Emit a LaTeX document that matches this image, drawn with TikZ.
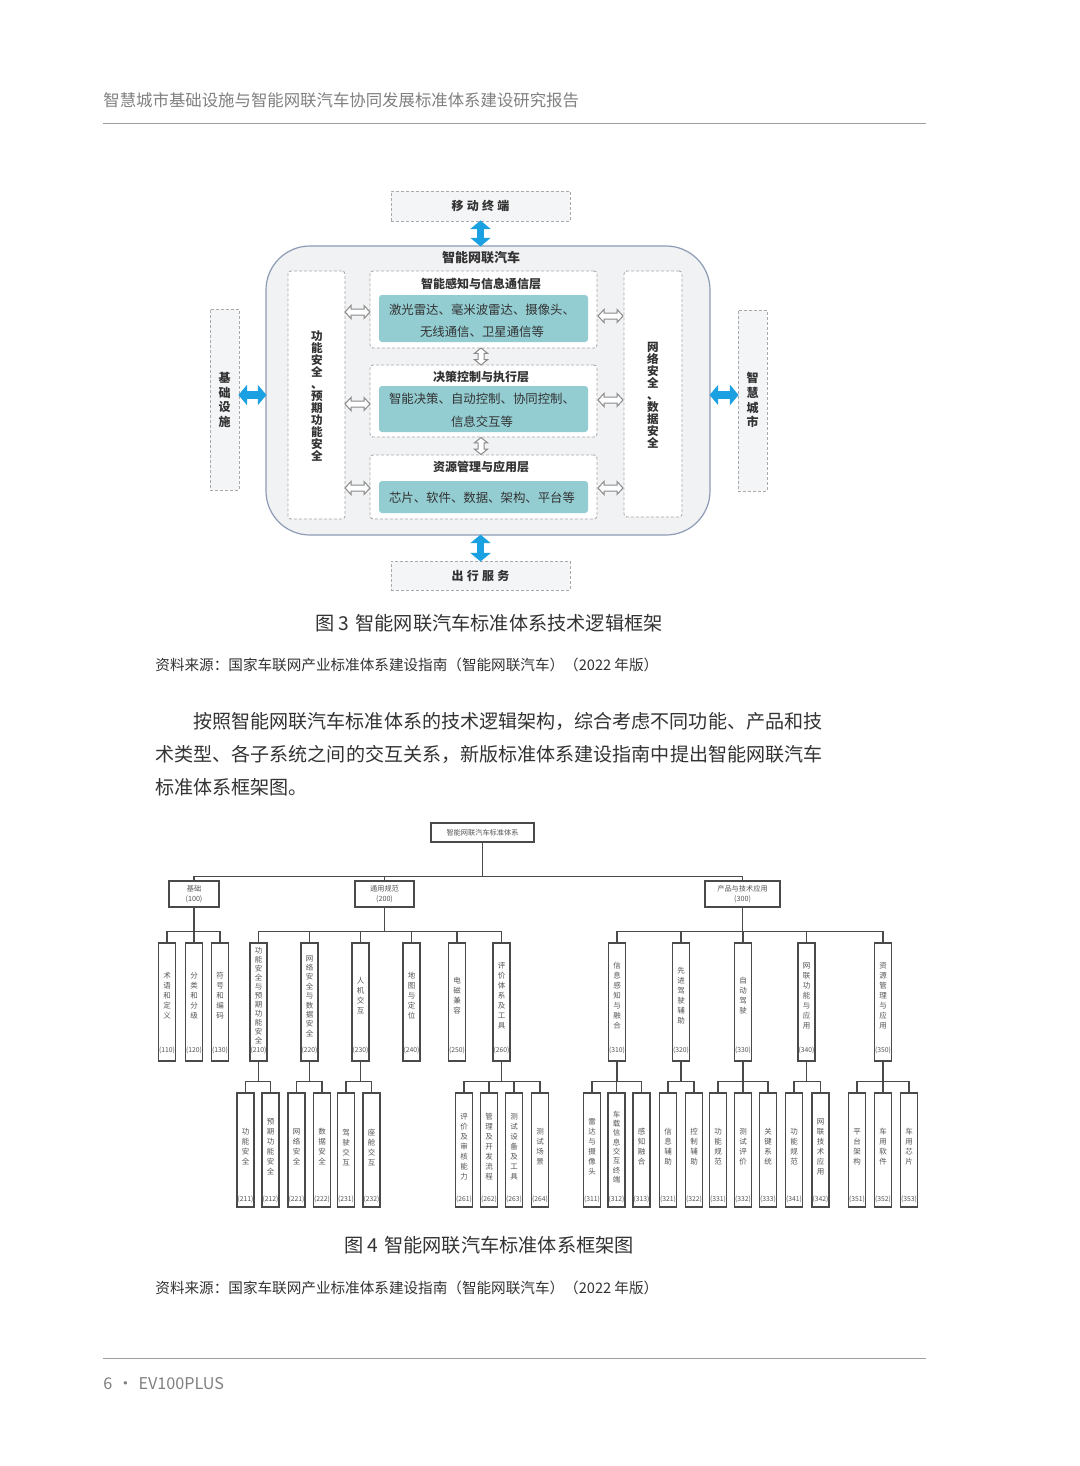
\documentclass[tikz,border=0pt]{standalone}
\usepackage{fontspec}
\setmainfont{Noto Sans CJK SC}
\setsansfont{Noto Sans CJK SC}
\usetikzlibrary{fit,arrows.meta}
\definecolor{hdr}{HTML}{808080}
\definecolor{body}{HTML}{333333}
\definecolor{bigfill}{HTML}{F1F2F4}
\definecolor{bigdraw}{HTML}{8E9BB5}
\definecolor{outfill}{HTML}{F4F5F6}
\definecolor{dashc}{HTML}{A9A9A9}
\definecolor{tealb}{HTML}{93CDD2}
\definecolor{bluea}{HTML}{1BA1E2}
\definecolor{lnc}{HTML}{4A4A4A}
\definecolor{txc}{HTML}{555555}
\definecolor{harc}{HTML}{8A8A8A}
\newcommand\fsz[2]{\fontsize{#1}{#2}\selectfont}
\newcommand\gapx{\hspace{1.6pt}}
% hollow double arrow, horizontal, around coordinate #1
\newcommand\hollowH[1]{%
  \draw[harrline] ([shift={(-12.5,0)}]#1) -- ([shift={(-6.5,-6.5)}]#1) -- ([shift={(-6.5,-3)}]#1)
   -- ([shift={(6.5,-3)}]#1) -- ([shift={(6.5,-6.5)}]#1) -- ([shift={(12.5,0)}]#1)
   -- ([shift={(6.5,6.5)}]#1) -- ([shift={(6.5,3)}]#1) -- ([shift={(-6.5,3)}]#1)
   -- ([shift={(-6.5,6.5)}]#1) -- cycle;}
% hollow double arrow, vertical, around coordinate #1
\newcommand\hollowV[1]{%
  \draw[harrline] ([shift={(0,-8.5)}]#1) -- ([shift={(-6.5,-3.2)}]#1) -- ([shift={(-3,-3.2)}]#1)
   -- ([shift={(-3,3.2)}]#1) -- ([shift={(-6.5,3.2)}]#1) -- ([shift={(0,8.5)}]#1)
   -- ([shift={(6.5,3.2)}]#1) -- ([shift={(3,3.2)}]#1) -- ([shift={(3,-3.2)}]#1)
   -- ([shift={(6.5,-3.2)}]#1) -- cycle;}
% level-2 box: name, centre x, text, code, pitch
\newcommand\Ltwo[5]{%
  \node[lb, fit={(#2-8.5,943) (#2+8.5,1061)}] (#1) {};
  \node[vt, font=\fsz{3.75pt}{#5}] (#1t) at (#2,996) {#3};
  \node[cd] (#1c) at (#2,1050) {(#4)};}
% level-3 box
\newcommand\Lthree[5]{%
  \node[lb, fit={(#2-8.5,1093) (#2+8.5,1207)}] (#1) {};
  \node[vt, font=\fsz{3.75pt}{#5}] (#1t) at (#2,1147) {#3};
  \node[cd] (#1c) at (#2,1199) {(#4)};}
\begin{document}
\begin{tikzpicture}[x=0.5pt,y=-0.5pt,
  dbox/.style={draw=dashc, dash pattern=on 1.5pt off 1pt, line width=0.45pt, inner sep=0pt},
  obox/.style={dbox, fill=outfill},
  wbox/.style={dbox, fill=white, rounded corners=1.5pt},
  tbox/.style={fill=tealb, rounded corners=1.5pt, inner sep=0pt},
  ttxt/.style={align=center, font=\fsz{6.2pt}{11.25pt}, text=body, inner sep=0pt},
  ttl/.style={font=\bfseries\fsz{6pt}{7pt}, text=body, inner sep=0pt},
  otxt/.style={font=\bfseries\fsz{6pt}{7pt}, text=body, inner sep=0pt},
  vcol/.style={font=\bfseries\fsz{5.8pt}{6pt}, align=center, inner sep=0pt, text=body},
  barr/.style={draw=bluea, line width=3.6pt, {Triangle[width=10pt,length=4.3pt]}-{Triangle[width=10pt,length=4.3pt]}},
  harrline/.style={draw=harc, fill=white, line width=0.5pt, line join=miter},
  lb/.style={draw=lnc, line width=0.6pt, inner sep=0pt, fill=white},
  vt/.style={align=center, inner sep=0pt, text=txc},
  cd/.style={font=\fsz{3.4pt}{4pt}, inner sep=0pt, text=txc},
  ltxt/.style={font=\fsz{3.6pt}{5pt}, text=txc, align=center, inner sep=0pt},
  ln/.style={draw=lnc, line width=0.6pt},
  pagerule/.style={draw=gray!75, line width=0.5pt},
  ptxt/.style={font=\fsz{9.53pt}{11pt}, text=body, inner sep=0pt, anchor=west},
  captxt/.style={font=\fsz{9.6pt}{11pt}, text=body, inner sep=0pt},
  srctxt/.style={font=\fsz{7.3pt}{9pt}, text=body, inner sep=0pt, anchor=west}
]
\useasboundingbox (0,0) rectangle (1080,1466);
\fill[white] (0,0) rectangle (1080,1466);

% ---------- header / footer ----------
\node[font=\fsz{8.2pt}{9pt}, text=hdr, inner sep=0pt, anchor=west] (hd) at (103,100) {智慧城市基础设施与智能网联汽车协同发展标准体系建设研究报告};
\draw[pagerule] (103,124) -- (926,124);
\draw[pagerule] (103,1358) -- (926,1358);
\node[font=\fsz{8.1pt}{9pt}, text=hdr, inner sep=0pt, anchor=west] (ft) at (103,1384) {6\hspace{2.5pt}·\hspace{2.5pt}EV100PLUS};

% ---------- figure 3 ----------
\node[obox, fit={(391,191) (570,221)}] (mt) {};
\node[otxt] (mtt) at (480.5,206) {移\gapx 动\gapx 终\gapx 端};
\node[obox, fit={(391,561) (570,590)}] (cx) {};
\node[otxt] (cxt) at (480.5,575.5) {出\gapx 行\gapx 服\gapx 务};
\node[fit={(266,246) (710,535)}, draw=bigdraw, fill=bigfill, line width=0.6pt, rounded corners=22pt, inner sep=0pt] (big) {};
\node[font=\bfseries\fsz{6.5pt}{7pt}, text=body, inner sep=0pt] (bigt) at (481,258) {智能网联汽车};

\node[wbox, fit={(288,271) (345,519)}] (lc) {};
\node[vcol] (lct) at (317,396) {功\\能\\安\\全\\、\\预\\期\\功\\能\\安\\全};
\node[wbox, fit={(624,271) (682,517)}] (rc) {};
\node[vcol] (rct) at (653,395) {网\\络\\安\\全\\、\\数\\据\\安\\全};

\node[wbox, fit={(370,271) (597,348)}] (L1) {};
\node[ttl] (L1t) at (481,284) {智能感知与信息通信层};
\node[tbox, fit={(379,295) (588,342)}] (T1) {};
\node[ttxt] (T1t) at (482,321) {激光雷达、毫米波雷达、摄像头、\\无线通信、卫星通信等};
\node[wbox, fit={(370,365) (597,437)}] (L2) {};
\node[ttl] (L2t) at (481,377) {决策控制与执行层};
\node[tbox, fit={(379,386) (588,432)}] (T2) {};
\node[ttxt] (T2t) at (482,410.5) {智能决策、自动控制、协同控制、\\信息交互等};
\node[wbox, fit={(370,455) (597,519)}] (L3) {};
\node[ttl] (L3t) at (481,467) {资源管理与应用层};
\node[tbox, fit={(379,481) (588,513)}] (T3) {};
\node[ttxt] (T3t) at (482,498) {芯片、软件、数据、架构、平台等};

\node[obox, fit={(210,309) (239,490)}] (jc) {};
\node[vcol, font=\bfseries\fsz{6pt}{7.35pt}] (jct) at (224.5,400) {基\\础\\设\\施};
\node[obox, fit={(738,310) (767,491)}] (zh) {};
\node[vcol, font=\bfseries\fsz{6pt}{7.35pt}] (zht) at (752.5,400) {智\\慧\\城\\市};

% blue arrows
\draw[barr] ([yshift=0.5pt]mt.south) -- ([yshift=-0.5pt]mt.south |- big.north);
\draw[barr] ([yshift=0.5pt]cx.north |- big.south) -- ([yshift=-0.5pt]cx.north);
\draw[barr] ([xshift=-0.5pt]jc.east |- 0,395) -- ([xshift=0.5pt]big.west |- 0,395);
\draw[barr] ([xshift=-0.5pt]big.east |- 0,395) -- ([xshift=0.5pt]zh.west |- 0,395);

% hollow arrows (centres between the boxes they join)
\path (lc.east |- 0,312) -- (L1.west |- 0,312) coordinate[midway] (h1);
\path (lc.east |- 0,404) -- (L2.west |- 0,404) coordinate[midway] (h2);
\path (lc.east |- 0,488) -- (L3.west |- 0,488) coordinate[midway] (h3);
\path (L1.east |- 0,316) -- (rc.west |- 0,316) coordinate[midway] (h4);
\path (L2.east |- 0,400) -- (rc.west |- 0,400) coordinate[midway] (h5);
\path (L3.east |- 0,488) -- (rc.west |- 0,488) coordinate[midway] (h6);
\path (L1.south -| 481,0) -- (L2.north -| 481,0) coordinate[midway] (h7);
\path (L2.south -| 481,0) -- (L3.north -| 481,0) coordinate[midway] (h8);
\hollowH{h1}\hollowH{h2}\hollowH{h3}\hollowH{h4}\hollowH{h5}\hollowH{h6}
\hollowV{h7}\hollowV{h8}

\node[captxt] (cap3) at (489,623) {图 3\hspace{3pt}智能网联汽车标准体系技术逻辑框架};
\node[srctxt] (src3) at (155,665) {资料来源：国家车联网产业标准体系建设指南（智能网联汽车）（2022 年版）};

% ---------- paragraph ----------
\node[ptxt] (p1) at (193,721) {按照智能网联汽车标准体系的技术逻辑架构，综合考虑不同功能、产品和技};
\node[ptxt] (p2) at (155,754) {术类型、各子系统之间的交互关系，新版标准体系建设指南中提出智能网联汽车};
\node[ptxt] (p3) at (155,787) {标准体系框架图。};

% ---------- figure 4 ----------
\node[lb, fit={(431,823) (534,842)}] (root) {};
\node[ltxt] (roott) at (482.5,832.5) {智能网联汽车标准体系};
\node[lb, fit={(169,881) (219,907)}] (b1) {};
\node[ltxt] (b1t) at (194,894.5) {基础\\(100)};
\node[lb, fit={(355,881) (414,907)}] (b2) {};
\node[ltxt] (b2t) at (384.5,894.5) {通用规范\\(200)};
\node[lb, fit={(705,881) (780,907)}] (b3) {};
\node[ltxt] (b3t) at (742.5,894.5) {产品与技术应用\\(300)};

\draw[ln] (root.south) -- ++(0,34) -| (b1.north);
\draw[ln] (root.south) -- ++(0,34) -| (b2.north);
\draw[ln] (root.south) -- ++(0,34) -| (b3.north);

\Ltwo{n110}{167}{术\\语\\和\\定\\义}{110}{5pt}
\Ltwo{n120}{194}{分\\类\\和\\分\\级}{120}{5pt}
\Ltwo{n130}{220}{符\\号\\和\\编\\码}{130}{5pt}
\Ltwo{n210}{258.5}{功\\能\\安\\全\\与\\预\\期\\功\\能\\安\\全}{210}{4.5pt}
\Ltwo{n220}{309.5}{网\\络\\安\\全\\与\\数\\据\\安\\全}{220}{4.7pt}
\Ltwo{n230}{360.5}{人\\机\\交\\互}{230}{5pt}
\Ltwo{n240}{411.5}{地\\图\\与\\定\\位}{240}{5pt}
\Ltwo{n250}{457}{电\\磁\\兼\\容}{250}{5pt}
\Ltwo{n260}{501.5}{评\\价\\体\\系\\及\\工\\具}{260}{5pt}
\Ltwo{n310}{617}{信\\息\\感\\知\\与\\融\\合}{310}{5pt}
\Ltwo{n320}{681}{先\\进\\驾\\驶\\辅\\助}{320}{5pt}
\Ltwo{n330}{743}{自\\动\\驾\\驶}{330}{5pt}
\Ltwo{n340}{806.5}{网\\联\\功\\能\\与\\应\\用}{340}{5pt}
\Ltwo{n350}{883}{资\\源\\管\\理\\与\\应\\用}{350}{5pt}

\foreach \c in {n110,n120,n130} \draw[ln] (b1.south) -- ++(0,24) -| (\c.north);
\foreach \c in {n210,n220,n230,n240,n250,n260} \draw[ln] (b2.south) -- ++(0,24) -| (\c.north);
\foreach \c in {n310,n320,n330,n340,n350} \draw[ln] (b3.south) -- ++(0,24) -| (\c.north);

\Lthree{n211}{245.5}{功\\能\\安\\全}{211}{5pt}
\Lthree{n212}{270.5}{预\\期\\功\\能\\安\\全}{212}{5pt}
\Lthree{n221}{296.5}{网\\络\\安\\全}{221}{5pt}
\Lthree{n222}{322}{数\\据\\安\\全}{222}{5pt}
\Lthree{n231}{346}{驾\\驶\\交\\互}{231}{5pt}
\Lthree{n232}{371.5}{座\\舱\\交\\互}{232}{5pt}
\Lthree{n261}{464}{评\\价\\及\\审\\核\\能\\力}{261}{5pt}
\Lthree{n262}{489}{管\\理\\及\\开\\发\\流\\程}{262}{5pt}
\Lthree{n263}{514}{测\\试\\设\\备\\及\\工\\具}{263}{5pt}
\Lthree{n264}{540}{测\\试\\场\\景}{264}{5pt}
\Lthree{n311}{592}{雷\\达\\与\\摄\\像\\头}{311}{5pt}
\Lthree{n312}{616.5}{车\\载\\信\\息\\交\\互\\终\\端}{312}{4.65pt}
\Lthree{n313}{641.5}{感\\知\\融\\合}{313}{5pt}
\Lthree{n321}{668}{信\\息\\辅\\助}{321}{5pt}
\Lthree{n322}{694}{控\\制\\辅\\助}{322}{5pt}
\Lthree{n331}{718}{功\\能\\规\\范}{331}{5pt}
\Lthree{n332}{743}{测\\试\\评\\价}{332}{5pt}
\Lthree{n333}{768}{关\\键\\系\\统}{333}{5pt}
\Lthree{n341}{794}{功\\能\\规\\范}{341}{5pt}
\Lthree{n342}{820.5}{网\\联\\技\\术\\应\\用}{342}{5pt}
\Lthree{n351}{857}{平\\台\\架\\构}{351}{5pt}
\Lthree{n352}{883}{车\\用\\软\\件}{352}{5pt}
\Lthree{n353}{909}{车\\用\\芯\\片}{353}{5pt}

\foreach \p/\c in {n210/n211,n210/n212,n220/n221,n220/n222,n230/n231,n230/n232,
  n260/n261,n260/n262,n260/n263,n260/n264,n310/n311,n310/n312,n310/n313,
  n320/n321,n320/n322,n330/n331,n330/n332,n330/n333,n340/n341,n340/n342,
  n350/n351,n350/n352,n350/n353}
  \draw[ln] (\p.south) -- ++(0,20) -| (\c.north);

\node[captxt] (cap4) at (489,1245) {图 4\hspace{3pt}智能网联汽车标准体系框架图};
\node[srctxt] (src4) at (155,1288) {资料来源：国家车联网产业标准体系建设指南（智能网联汽车）（2022 年版）};
\end{tikzpicture}
\end{document}
